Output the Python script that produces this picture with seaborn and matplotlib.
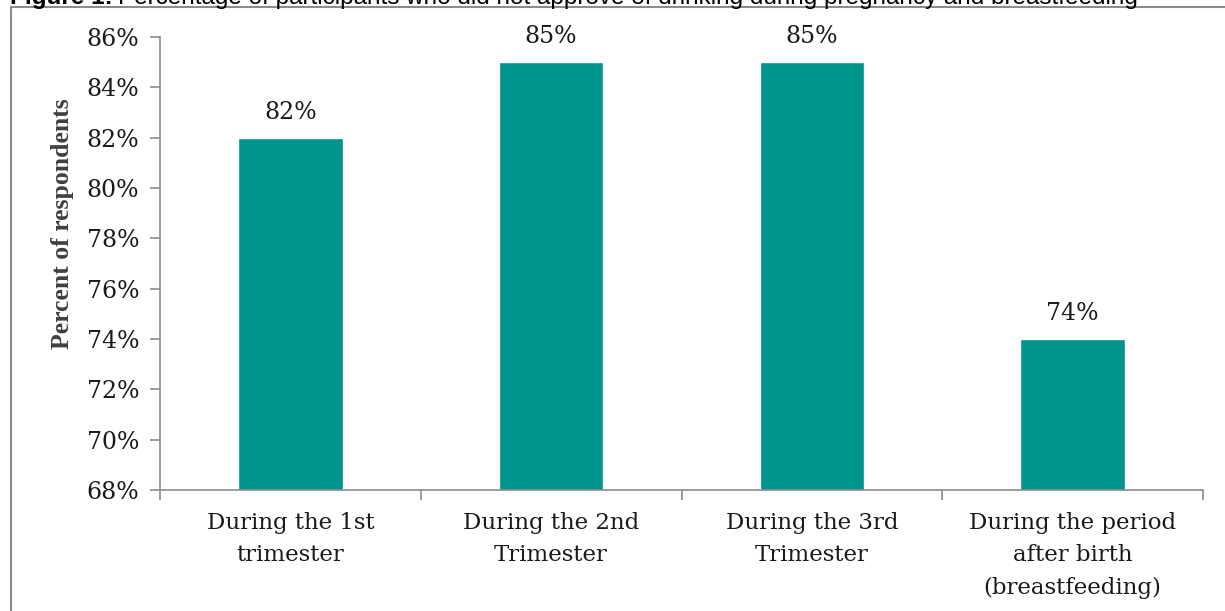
import matplotlib
matplotlib.use("Agg")
import matplotlib.pyplot as plt
from matplotlib.patches import Rectangle
import seaborn as sns
import pandas as pd

# Data
categories = [
    "During the 1st\ntrimester",
    "During the 2nd\nTrimester",
    "During the 3rd\nTrimester",
    "During the period\nafter birth\n(breastfeeding)",
]
percent = [82, 85, 85, 74]
y_ticks = [68, 70, 72, 74, 76, 78, 80, 82, 84, 86]

df = pd.DataFrame({"period": categories, "percent": percent})

sns.set_theme(style="white")
plt.rcParams["font.family"] = ["DejaVu Serif"]

W, H = 1225, 611
fig = plt.figure(figsize=(W / 100, H / 100), dpi=100)
ax = fig.add_axes([160 / W, 1 - 490 / H, (1203 - 160) / W, (490 - 37) / H])

bar_color = "#00948F"
sns.barplot(data=df, x="period", y="percent", order=categories, color=bar_color,
            width=0.4, saturation=1, ax=ax)

ax.set_ylim(68, 86)
ax.set_xlim(-0.5, len(categories) - 0.5)
ax.set_yticks(y_ticks)
ax.set_yticklabels([f"{v}%" for v in y_ticks], fontsize=17, color="#1a1a1a")
ax.set_xticks(range(len(categories)))
ax.set_xticklabels(categories, fontsize=16.5, color="#1a1a1a", linespacing=1.6)
ax.set_xticks([i - 0.5 for i in range(len(categories) + 1)], minor=True)

spine_color = "#8c8c8c"
for side in ["top", "right"]:
    ax.spines[side].set_visible(False)
for side in ["left", "bottom"]:
    ax.spines[side].set_color(spine_color)
    ax.spines[side].set_linewidth(1.2)

ax.tick_params(axis="y", which="major", direction="out", length=7, width=1.2,
               color=spine_color, pad=8, left=True)
ax.tick_params(axis="x", which="major", length=0, pad=16)
ax.tick_params(axis="x", which="minor", direction="out", length=7, width=1.2,
               color=spine_color, bottom=True)

ax.set_xlabel("")
ax.set_ylabel("")
ax.grid(False)

# Vertical axis title, set in a narrower bold serif
fig.text(62 / W, 1 - 224 / H, "Percent of respondents", rotation=90,
         ha="center", va="center", fontsize=18.5, fontweight="bold",
         family="Liberation Serif", color="#404040")

# Value labels above bars
for i, v in enumerate(percent):
    ax.text(i, v + 0.55, f"{v}%", ha="center", va="bottom", fontsize=17,
            color="#1a1a1a")

# Outer frame of the figure box
fig.patches.append(Rectangle((11 / W, -0.1), 1.2, 1 - 7 / H + 0.1,
                             transform=fig.transFigure, fill=False,
                             edgecolor="#8c8c8c", linewidth=1.5))

# Caption at the top: bold label followed by the description
cap_y = 1 - 4 / H
t1 = fig.text(10 / W, cap_y, "Figure 1:", ha="left", va="baseline",
              fontsize=17.5, fontweight="bold", family="Liberation Sans", color="#000000")
renderer = fig.canvas.get_renderer()
x_end = t1.get_window_extent(renderer).x1
fig.text((x_end + 5) / W, cap_y,
         "Percentage of participants who did not approve of drinking during pregnancy and breastfeeding",
         ha="left", va="baseline", fontsize=17.5, family="Liberation Sans", color="#000000")

fig.savefig("out.png", dpi=100)
